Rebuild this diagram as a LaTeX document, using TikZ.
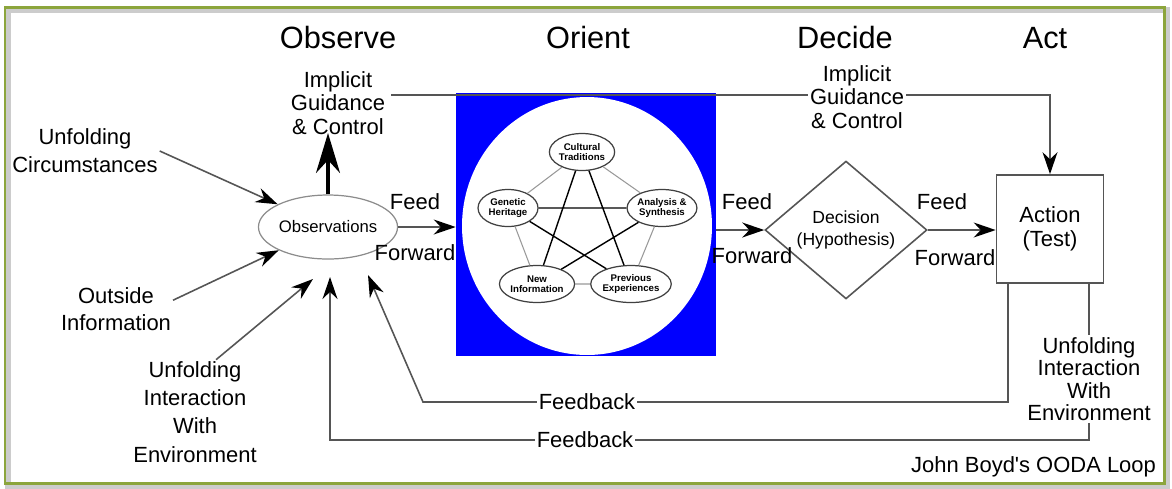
\documentclass[tikz,border=0pt]{standalone}
\usepackage{fontspec}
\setmainfont{Liberation Sans}
\usetikzlibrary{arrows.meta,shapes.geometric}
\definecolor{olive}{RGB}{140,165,60}
\definecolor{wire}{RGB}{85,85,85}
\definecolor{pureblue}{RGB}{0,0,255}
\tikzset{
  >={Stealth[length=4.4mm,width=3mm,color=black]},
  title/.style={font=\fontsize{17.5}{20}\selectfont},
  lbl/.style={font=\fontsize{12.5}{#1}\selectfont,align=center,inner sep=1pt},
  lbl/.default=14,
  flow/.style={->,line width=0.9pt,draw=wire},
  wireline/.style={line width=0.9pt,draw=wire},
  petal/.style={ellipse,draw=black!75,fill=white,line width=0.7pt,
    minimum width=1.2cm,minimum height=0.74cm,inner sep=0pt,align=center,
    font=\fontsize{5.5}{5.8}\selectfont\bfseries},
  ring/.style={draw=black!40,line width=0.6pt},
  star/.style={draw=black,line width=0.8pt},
}

\begin{document}
\begin{tikzpicture}[x=0.02cm,y=-0.02cm]
  \useasboundingbox (0,0) rectangle (1172,488);
  \draw[black!20,line width=3pt] (8,10) rectangle (1167,486);
  \draw[olive,line width=1.7pt] (5,7) rectangle (1164,483);

  % phase titles
  \node[title] (tobs) at (338,38) {Observe};
  \node[title] (tori) at (588,38) {Orient};
  \node[title] (tdec) at (845,38) {Decide};
  \node[title] (tact) at (1045,38) {Act};

  % observe
  \node[ellipse,draw=black!45,line width=0.7pt,minimum width=2.32cm,minimum height=1.28cm,
    inner sep=0pt,font=\fontsize{9.5}{11}\selectfont] (obs) at (328,227) {Observations};
  \node[lbl=13.3] (igL) at (338,103) {Implicit\\Guidance\\\& Control};
  \draw[->,line width=1.8pt,>={Stealth[length=8mm,width=4.8mm]}] (obs.north) -- ([yshift=2pt]obs.north |- igL.south);

  % orient
  \node[fill=pureblue,minimum width=5.2cm,minimum height=5.26cm,inner sep=0pt] (orient) at (586,224.5) {};
  \node[ellipse,fill=white,minimum width=5.0cm,minimum height=5.16cm,inner sep=0pt] (lens) at (587,226) {};
  \node[petal] (cul) at (582,152) {Cultural\\Traditions};
  \node[petal] (gen) at (508,208) {Genetic\\Heritage};
  \node[petal] (ana) at (662,208) {Analysis \&\\Synthesis};
  \node[petal] (new) at (537,284) {New\\Information};
  \node[petal] (pre) at (631,284) {Previous\\Experiences};
  \draw[ring] (cul) -- (ana) -- (pre) -- (new) -- (gen) -- (cul);
  \draw[star] (cul) -- (new) (cul) -- (pre) (gen) -- (ana) (gen) -- (pre) (ana) -- (new);

  % decide and act
  \node[diamond,draw=wire,line width=0.9pt,minimum width=3.24cm,minimum height=2.4cm,inner sep=0pt,
    align=center,font=\fontsize{10}{13}\selectfont] (dec) at (846,230) {Decision\\(Hypothesis)};
  \node[lbl,draw=wire,line width=1pt,minimum width=2.14cm,minimum height=2.16cm] (act) at (1050,229) {Action\\(Test)};

  % feed forward
  \draw[flow] (obs.east) -- (obs.east -| orient.west);
  \node[lbl] (ff1a) at (415,202) {Feed};
  \node[lbl] (ff1b) at (415,253) {Forward};
  \draw[flow] (orient.east |- dec.west) -- (dec.west);
  \node[lbl] (ff2a) at (747,202) {Feed};
  \node[lbl] (ff2b) at (752,256) {Forward};
  \draw[flow] (dec.east) -- (dec.east -| act.west);
  \node[lbl] (ff3a) at (942,202) {Feed};
  \node[lbl] (ff3b) at (955,258) {Forward};

  % implicit guidance to act
  \coordinate (igstart) at (391,95);
  \draw[flow] (igstart) -| (act.north);
  \node[lbl=13.3,fill=white] (igR) at (857,97) {Implicit\\Guidance\\\& Control};

  % outside inputs
  \node[lbl=16] (circ) at (85,151) {Unfolding\\Circumstances};
  \node[lbl=15.3] (outs) at (116,309) {Outside\\Information};
  \node[lbl=16] (uiL) at (195,412) {Unfolding\\Interaction\\With\\Environment};
  \coordinate (tipI) at (313,279);
  \draw[flow] (circ.east) -- (obs);
  \draw[flow] ([yshift=5pt]outs.east) -- (obs);
  \draw[flow] ([xshift=12pt]uiL.north) -- (tipI);

  % feedback loops
  \node[lbl=12.8] (uiR) at (1089,379) {Unfolding\\Interaction\\With\\Environment};
  \coordinate (fbA) at (423,402);
  \coordinate (tipA) at (368,275);
  \coordinate (fbB) at (330,440);
  \coordinate (tipB) at (330,277);
  \draw[flow] ([xshift=-0.84cm]act.south) |- (fbA) -- (tipA);
  \draw[wireline] (act.south -| uiR.north) -- (uiR.north);
  \draw[flow] (uiR.south) |- (fbB) -- (tipB);
  \node[lbl,fill=white] (fb1) at (587,402) {Feedback};
  \node[lbl,fill=white] (fb2) at (585,440) {Feedback};

  \node[lbl,anchor=east] (credit) at (1158,467) {John Boyd\textquotesingle s OODA Loop};
\end{tikzpicture}
\end{document}
